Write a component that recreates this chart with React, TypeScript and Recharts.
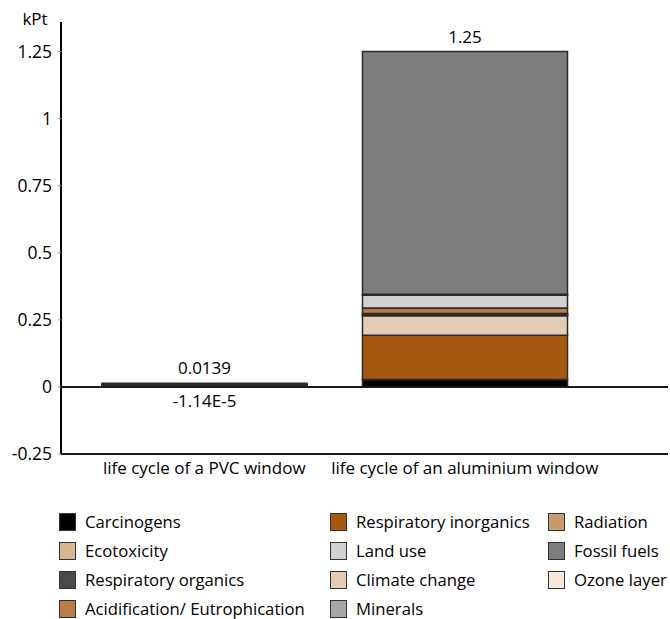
import React from 'react';
import { BarChart, Bar, XAxis, YAxis, ReferenceLine, Legend, LabelList } from 'recharts';

const categories = ['life cycle of a PVC window', 'life cycle of an aluminium window'];
const carcinogens = [0.002, 0.0276];
const respiratoryOrganics = [0.00001, 0.0003];
const respiratoryInorganics = [0.004, 0.165];
const climateChange = [0.0017, 0.072];
const radiation = [0.00002, 0.002];
const ozoneLayer = [0.00001, 0.001];
const ecotoxicity = [0.0003, 0.006];
const acidification = [0.0004, 0.02];
const landUse = [0.0003, 0.048];
const minerals = [-0.0000114, 0.003];
const fossilFuels = [0.00516, 0.905];

const positiveTotalLabels = ['0.0139', '1.25'];
const negativeTotalLabels = ['-1.14E-5', ''];
const yTicks = [-0.25, 0, 0.25, 0.5, 0.75, 1, 1.25];

const series = [
  { key: 'carcinogens', name: 'Carcinogens', values: carcinogens, color: '#000000' },
  { key: 'respOrg', name: 'Respiratory organics', values: respiratoryOrganics, color: '#4a4b47' },
  { key: 'respInorg', name: 'Respiratory inorganics', values: respiratoryInorganics, color: '#a5580e' },
  { key: 'climate', name: 'Climate change', values: climateChange, color: '#e3ccb4' },
  { key: 'radiation', name: 'Radiation', values: radiation, color: '#c99a6e' },
  { key: 'ozone', name: 'Ozone layer', values: ozoneLayer, color: '#f4e8de' },
  { key: 'ecotox', name: 'Ecotoxicity', values: ecotoxicity, color: '#d9b590' },
  { key: 'acid', name: 'Acidification/ Eutrophication', values: acidification, color: '#b97c47' },
  { key: 'landuse', name: 'Land use', values: landUse, color: '#d1d1d1' },
  { key: 'minerals', name: 'Minerals', values: minerals, color: '#a6a6a6' },
  { key: 'fossil', name: 'Fossil fuels', values: fossilFuels, color: '#7b7e7c' },
];

const legendGrid = [
  ['Carcinogens', 'Respiratory inorganics', 'Radiation'],
  ['Ecotoxicity', 'Land use', 'Fossil fuels'],
  ['Respiratory organics', 'Climate change', 'Ozone layer'],
  ['Acidification/ Eutrophication', 'Minerals'],
];

const data = categories.map((c, i) => {
  const row: any = { category: c };
  series.forEach((s) => {
    row[s.key] = s.values[i];
  });
  return row;
});

const FONT = '"Open Sans", sans-serif';

const LegendContent = () => {
  const colX = [59, 330, 548];
  const rowY = [14, 43, 72, 101];
  const items: any[] = [];
  legendGrid.forEach((row, r) => {
    row.forEach((name, c) => {
      const s = series.find((q) => q.name === name)!;
      items.push(
        <div key={name} style={{ position: 'absolute', left: colX[c], top: rowY[r], display: 'flex', alignItems: 'center', whiteSpace: 'nowrap' }}>
          <div style={{ width: 17, height: 18, background: s.color, border: '1px solid #333', boxSizing: 'border-box', marginRight: 9 }} />
          <span style={{ fontSize: 16.7, color: '#000', fontFamily: FONT, lineHeight: '18px' }}>{name}</span>
        </div>
      );
    });
  });
  return <div style={{ position: 'relative', width: 670, height: 120 }}>{items}</div>;
};

const TopLabel = (props: any) => {
  const { x, y, width, index } = props;
  const t = positiveTotalLabels[index];
  if (!t) return null;
  return (
    <text x={x + width / 2} y={y - 9} textAnchor="middle" fill="#000" fontSize={17} fontFamily={FONT}>
      {t}
    </text>
  );
};

const NegLabel = (props: any) => {
  const { x, y, width, height, index } = props;
  const t = negativeTotalLabels[index];
  if (!t) return null;
  const bottom = Math.max(y, y + (height || 0));
  return (
    <text x={x + width / 2} y={bottom + 20} textAnchor="middle" fill="#000" fontSize={17} fontFamily={FONT}>
      {t}
    </text>
  );
};

const KptLabel = (props: any) => {
  const vb = props.viewBox || {};
  return (
    <text x={(vb.x || 0) + 35} y={(vb.y || 0) + 3} textAnchor="middle" fill="#000" fontSize={17} fontFamily={FONT}>
      kPt
    </text>
  );
};

export default function App() {
  return (
    <div style={{ position: 'absolute', left: 0, top: 0, fontFamily: FONT }}>
      <BarChart
        width={670}
        height={619}
        data={data}
        stackOffset="sign"
        margin={{ top: 22, right: 2, left: 0, bottom: 0 }}
      >
        <XAxis
          dataKey="category"
          height={45}
          tickLine={false}
          axisLine={{ stroke: '#1a1a1a', strokeWidth: 2 }}
          tick={{ fill: '#000', fontSize: 17 }}
          padding={{ left: 13, right: 73 }}
          interval={0}
        />
        <YAxis
          width={61}
          domain={[-0.25, 1.36]}
          ticks={yTicks}
          allowDataOverflow
          tickSize={3}
          tickMargin={6}
          tickLine={{ stroke: '#999' }}
          axisLine={{ stroke: '#000', strokeWidth: 2 }}
          tick={{ fill: '#000', fontSize: 17.5 }}
          label={<KptLabel />}
        />
        <ReferenceLine y={0} stroke="#1a1a1a" strokeWidth={2} />
        {series.map((s) => (
          <Bar
            key={s.key}
            dataKey={s.key}
            name={s.name}
            stackId="a"
            fill={s.color}
            stroke="#2a2a2a"
            strokeWidth={1.5}
            barSize={205}
            isAnimationActive={false}
          >
            {s.key === 'fossil' && <LabelList dataKey={s.key} content={<TopLabel />} />}
            {s.key === 'minerals' && <LabelList dataKey={s.key} content={<NegLabel />} />}
          </Bar>
        ))}
        <Legend content={<LegendContent />} wrapperStyle={{ left: 0, width: 670 }} />
      </BarChart>
    </div>
  );
}
